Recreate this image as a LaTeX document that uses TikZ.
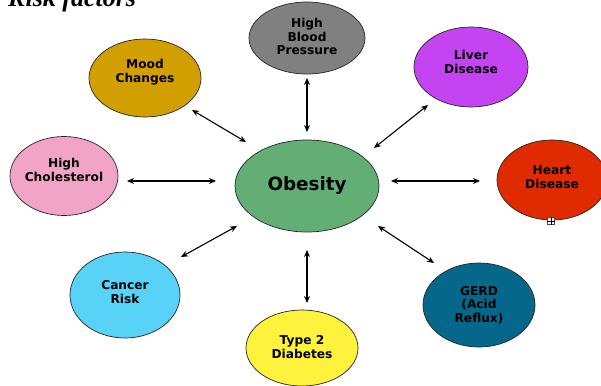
\documentclass[tikz,border=0pt]{standalone}
\usepackage{fontspec}
\setmainfont{DejaVu Sans}
\newfontfamily\titlefont{Liberation Serif}
\usetikzlibrary{shapes.geometric,arrows.meta}
\definecolor{obesegreen}{HTML}{62AE75}
\definecolor{bpgray}{HTML}{808080}
\definecolor{moodgold}{HTML}{D29F00}
\definecolor{livervio}{HTML}{C444F2}
\definecolor{cholpink}{HTML}{F2A4C6}
\definecolor{heartred}{HTML}{E02A00}
\definecolor{cancersky}{HTML}{58D3F7}
\definecolor{gerdteal}{HTML}{05688A}
\definecolor{diabyellow}{HTML}{FFF23C}
\tikzset{
  blob/.style={ellipse, draw=black!85, line width=0.7pt, inner sep=0pt},
  blobtext/.style={inner sep=0pt, align=center,
    font=\bfseries\fontsize{12.2}{13.6}\selectfont},
  link/.style={{Stealth[length=7pt,width=6pt]}-{Stealth[length=7pt,width=6pt]}, line width=1.1pt, black},
}
\begin{document}
\begin{tikzpicture}[x=1pt,y=-1pt]
\useasboundingbox (0,0) rectangle (601,385);

% title, partly above the top edge
\node[anchor=base west, inner sep=0pt, font=\titlefont\bfseries\itshape\fontsize{26}{26}\selectfont] (title) at (8,7) {Risk factors};

% central node
\node[blob, fill=obesegreen, minimum width=144pt, minimum height=92pt] (ob) at (307,186) {};
\node[inner sep=0pt, font=\bfseries\fontsize{18.3}{20}\selectfont] (obtxt) at (ob.center) {Obesity};

% surrounding factors
\node[blob, fill=bpgray, minimum width=116pt, minimum height=72pt] (bp) at (307,38) {};
\node[blobtext, yshift=1.5pt] (bptxt) at (bp.center) {High\\Blood\\Pressure};

\node[blob, fill=moodgold, minimum width=112pt, minimum height=78pt] (mood) at (145,78) {};
\node[blobtext, yshift=6pt] (moodtxt) at (mood.center) {Mood\\Changes};

\node[blob, fill=livervio, minimum width=114pt, minimum height=80pt] (liver) at (471,67) {};
\node[blobtext, yshift=5pt] (livertxt) at (liver.center) {Liver\\Disease};

\node[blob, fill=cholpink, minimum width=108pt, minimum height=79pt] (chol) at (64,176) {};
\node[blobtext, yshift=6pt] (choltxt) at (chol.center) {High\\Cholesterol};

\node[blob, fill=heartred, minimum width=110pt, minimum height=80pt] (heart) at (552,180) {};
\node[blobtext, yshift=3pt] (hearttxt) at (heart.center) {Heart\\Disease};

\node[blob, fill=cancersky, minimum width=110pt, minimum height=86pt] (cancer) at (125,295) {};
\node[blobtext, yshift=3pt] (cancertxt) at (cancer.center) {Cancer\\Risk};

\node[blob, fill=gerdteal, minimum width=112pt, minimum height=84pt] (gerd) at (479,305) {};
\node[blobtext] (gerdtxt) at (gerd.center) {GERD\\(Acid\\Reflux)};

\node[blob, fill=diabyellow, minimum width=112pt, minimum height=76pt] (diab) at (302,348) {};
\node[blobtext, yshift=1pt] (diabtxt) at (diab.center) {Type 2\\Diabetes};

% small handle box under Heart Disease
\node[draw=black!70, fill=white, line width=0.5pt, minimum size=7pt, inner sep=0pt] (handle) at (551,221) {};
\draw[line width=0.5pt] (handle.west) -- (handle.east) (handle.north) -- (handle.south);

% connectors
\coordinate (bpA) at (307,78);   \coordinate (bpB) at (307,132);
\coordinate (dA) at (307,250);   \coordinate (dB) at (307,303);
\coordinate (cA) at (127,181);   \coordinate (cB) at (216,181);
\coordinate (hA) at (391,181);   \coordinate (hB) at (480,181);
\coordinate (mA) at (192,110);   \coordinate (mB) at (246,142);
\coordinate (lA) at (374,148);   \coordinate (lB) at (428,105);
\coordinate (kA) at (181,257);   \coordinate (kB) at (237,226);
\coordinate (gA) at (378,226);   \coordinate (gB) at (434,263);
\draw[link] (bpA) -- (bpB);
\draw[link] (dA) -- (dB);
\draw[link] (cA) -- (cB);
\draw[link] (hA) -- (hB);
\draw[link] (mA) -- (mB);
\draw[link] (lA) -- (lB);
\draw[link] (kA) -- (kB);
\draw[link] (gA) -- (gB);
\end{tikzpicture}
\end{document}
